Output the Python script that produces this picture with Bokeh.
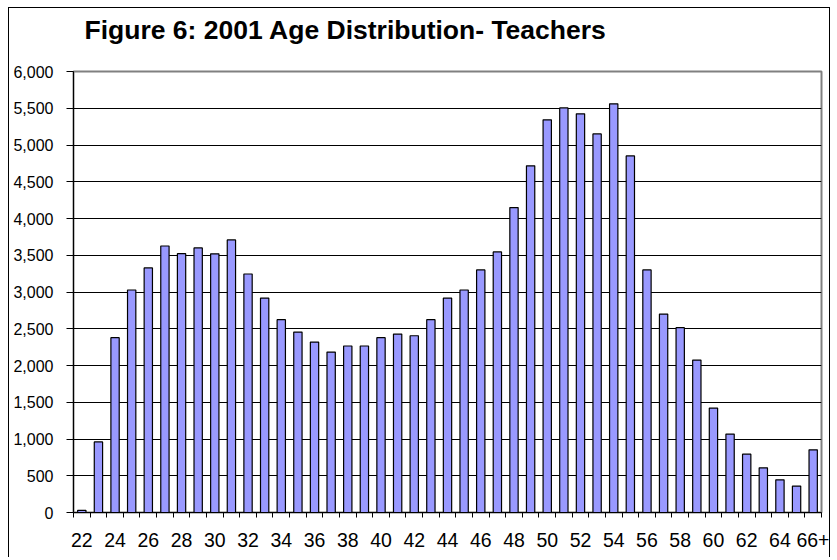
from bokeh.plotting import figure
from bokeh.models import FixedTicker, NumeralTickFormatter, Range1d, ColumnDataSource, InlineStyleSheet, Title
from bokeh.embed import file_html
from bokeh.resources import INLINE

ages = [str(a) for a in range(22, 66)] + ["66+"]
teachers = [30, 960, 2378, 3027, 3327, 3626, 3522, 3599, 3520, 3708,
            3245, 2918, 2623, 2455, 2319, 2183, 2265, 2265, 2378, 2428,
            2405, 2623, 2918, 3027, 3300, 3545, 4148, 4716, 5342, 5505,
            5424, 5151, 5560, 4852, 3300, 2700, 2514, 2074, 1421, 1067,
            794, 608, 445, 359, 853]
y_ticks = list(range(0, 6001, 500))
title_text = "Figure 6: 2001 Age Distribution- Teachers"

n = len(ages)
xs = [i + 0.5 for i in range(n)]
src = ColumnDataSource(dict(x=xs, age=ages, v=teachers))

p = figure(width=822, height=550, output_backend="svg", toolbar_location=None,
           x_range=Range1d(0, n), y_range=Range1d(0, 6000),
           min_border_left=64, min_border_right=10, min_border_top=63, min_border_bottom=46)
p.stylesheets = [InlineStyleSheet(css=":host { margin: 7px 0 0 8px; border: 1px solid black; border-bottom: none; }")]

# spacer between the title and the plot frame
p.add_layout(Title(text="\u00a0", text_font_size="1px", standoff=16, text_color="white"), "above")

p.title.text = title_text
p.title.text_font = "Liberation Sans"
p.title.text_font_style = "bold"
p.title.text_font_size = "26.5px"
p.title.text_color = "black"
p.title.align = "left"
p.title.vertical_align = "top"
p.title.offset = 11
p.title.standoff = 12

p.vbar(x="x", top="v", width=0.5, source=src, fill_color="#9999FF",
       line_color="black", line_width=1.2)

p.outline_line_color = "#808080"
p.outline_line_width = 2
p.xgrid.visible = False
p.ygrid.ticker = FixedTicker(ticks=y_ticks[:-1])
p.ygrid.grid_line_color = "black"
p.ygrid.grid_line_width = 1

label_pos = [xs[i] for i in range(0, n, 2)]
p.xaxis.ticker = FixedTicker(ticks=label_pos, minor_ticks=list(range(0, n + 1)))
p.xaxis.major_label_overrides = {xs[i]: ages[i] for i in range(0, n, 2)}
p.xaxis.major_tick_line_color = None
p.xaxis.major_tick_out = 0
p.xaxis.minor_tick_line_color = "black"
p.xaxis.minor_tick_out = 5
p.xaxis.minor_tick_in = 0
p.xaxis.major_label_standoff = 15
p.xaxis.major_label_text_font = "Liberation Sans"
p.xaxis.major_label_text_font_size = "19.5px"
p.xaxis.major_label_text_color = "black"
p.xaxis.axis_line_color = "black"

p.yaxis.ticker = FixedTicker(ticks=y_ticks)
p.yaxis.formatter = NumeralTickFormatter(format="0,0")
p.yaxis.minor_tick_line_color = None
p.yaxis.major_tick_out = 7
p.yaxis.major_tick_in = 0
p.yaxis.major_tick_line_color = "black"
p.yaxis.major_label_standoff = 13
p.yaxis.major_label_text_font = "Liberation Sans"
p.yaxis.major_label_text_font_size = "16px"
p.yaxis.major_label_text_color = "black"
p.yaxis.axis_line_color = "black"

open("out.html", "w").write(file_html(p, INLINE))
